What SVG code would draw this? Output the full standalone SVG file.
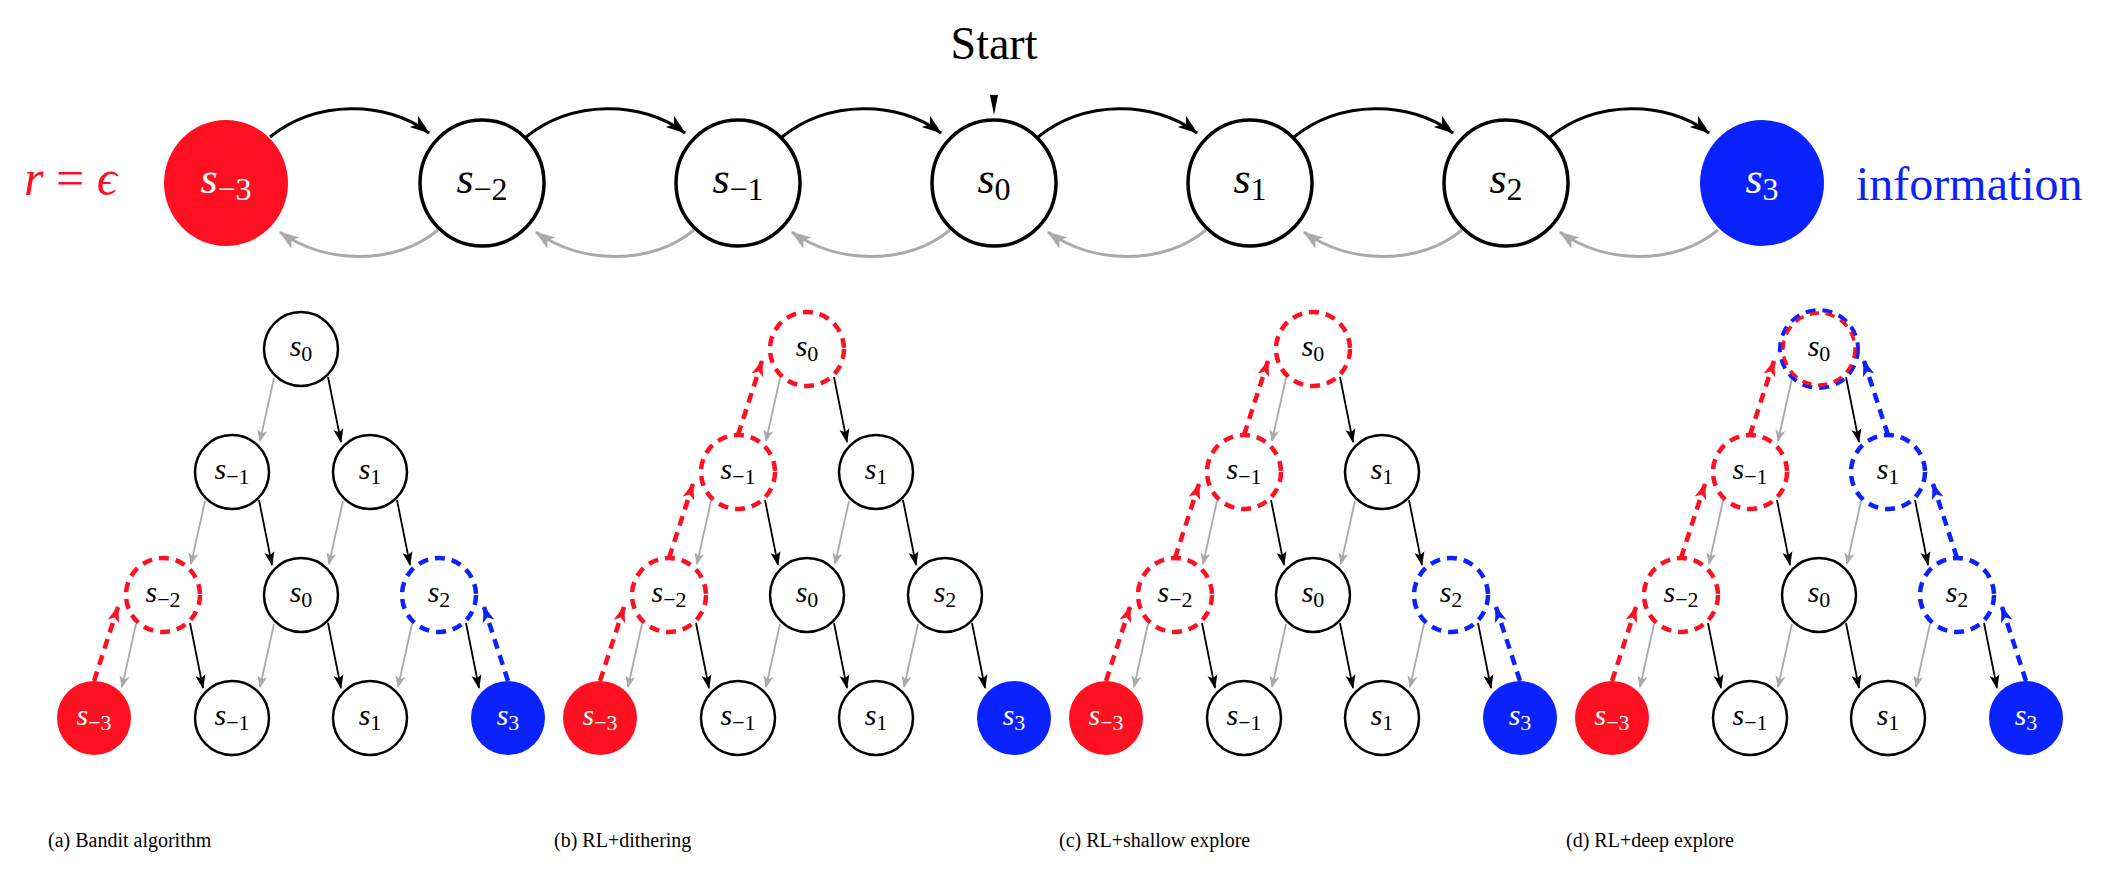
<svg xmlns="http://www.w3.org/2000/svg" width="2112" height="876" viewBox="0 0 2112 876" font-family="'Liberation Serif', 'Times New Roman', 'DejaVu Serif', serif">
<style>
text,tspan{font-family:"Liberation Serif","Times New Roman","DejaVu Serif",serif}
.s{font-style:italic}
.lbl{text-anchor:middle;font-size:30px}
.big{text-anchor:middle;font-size:44px}
.n{fill:#fff;stroke:#000;stroke-width:2.5}
.cn{fill:#fff;stroke:#000;stroke-width:3.5}
.dr{fill:#fff;stroke:#ff1020;stroke-width:4.5;stroke-dasharray:10 7}
.db{fill:#fff;stroke:#0a22ff;stroke-width:4.5;stroke-dasharray:10 7}
.fr{fill:#ff1020}
.fb{fill:#0a22ff}
.w{fill:#fff}
.eg{fill:none;stroke:#aaa;stroke-width:1.8;marker-end:url(#ag)}
.eb{fill:none;stroke:#000;stroke-width:1.8;marker-end:url(#ab)}
.er{fill:none;stroke:#ff1020;stroke-width:4.5;stroke-dasharray:10 7;marker-end:url(#ar)}
.eu{fill:none;stroke:#0a22ff;stroke-width:4.5;stroke-dasharray:10 7;marker-end:url(#au)}
.cf{fill:none;stroke:#000;stroke-width:3;marker-end:url(#cb)}
.cg{fill:none;stroke:#aaa;stroke-width:3;marker-end:url(#cg)}
.cap{font-size:20px}
</style>
<defs>
<marker id="ag" markerUnits="userSpaceOnUse" markerWidth="12" markerHeight="12" viewBox="0 0 12 12" refX="11" refY="6" orient="auto"><path d="M0,1 L12,6 L0,11 L3,6 Z" fill="#aaa"/></marker>
<marker id="ab" markerUnits="userSpaceOnUse" markerWidth="14" markerHeight="12" viewBox="0 0 14 12" refX="13" refY="6" orient="auto"><path d="M0,1 L14,6 L0,11 L3,6 Z" fill="#000"/></marker>
<marker id="ar" markerUnits="userSpaceOnUse" markerWidth="16" markerHeight="14" viewBox="0 0 16 14" refX="15" refY="7" orient="auto"><path d="M0,1 L16,7 L0,13 L4,7 Z" fill="#ff1020"/></marker>
<marker id="au" markerUnits="userSpaceOnUse" markerWidth="16" markerHeight="14" viewBox="0 0 16 14" refX="15" refY="7" orient="auto"><path d="M0,1 L16,7 L0,13 L4,7 Z" fill="#0a22ff"/></marker>
<marker id="cb" markerUnits="userSpaceOnUse" markerWidth="20" markerHeight="16" viewBox="0 0 20 16" refX="19" refY="8" orient="auto"><path d="M0,1 L20,8 L0,15 L5,8 Z" fill="#000"/></marker>
<marker id="cg" markerUnits="userSpaceOnUse" markerWidth="20" markerHeight="16" viewBox="0 0 20 16" refX="19" refY="8" orient="auto"><path d="M0,1 L20,8 L0,15 L5,8 Z" fill="#aaa"/></marker>
</defs>

<!-- top chain -->
<g id="chain-connectors">
<path class="cf" d="M270 137 C316 100 386 100 429 133"/>
<path class="cf" d="M526 137 C572 100 642 100 685 133"/>
<path class="cf" d="M782 137 C828 100 898 100 941 133"/>
<path class="cf" d="M1038 137 C1084 100 1154 100 1197 133"/>
<path class="cf" d="M1294 137 C1340 100 1410 100 1453 133"/>
<path class="cf" d="M1550 137 C1596 100 1666 100 1709 133"/>
<path class="cg" d="M438 230 C396 265 326 265 280 232"/>
<path class="cg" d="M694 230 C652 265 582 265 536 232"/>
<path class="cg" d="M950 230 C908 265 838 265 792 232"/>
<path class="cg" d="M1206 230 C1164 265 1094 265 1048 232"/>
<path class="cg" d="M1462 230 C1420 265 1350 265 1304 232"/>
<path class="cg" d="M1718 230 C1676 265 1606 265 1560 232"/>
<path d="M990 95 L998 95 L994 115 Z" fill="#000"/>
</g>
<text x="994" y="59" text-anchor="middle" font-size="46">Start</text>
<text x="24" y="195" font-size="50" fill="#ff1020"><tspan class="s">r</tspan> = <tspan class="s">ϵ</tspan></text>
<text x="1856" y="200" font-size="48" fill="#0a22ff">information</text>
<g id="c-sm3"><ellipse class="fr" cx="226" cy="183" rx="62" ry="63"/><text class="big w" x="226" y="193"><tspan class="s">s</tspan><tspan font-size="32" dy="7">−3</tspan></text></g>
<g id="c-sm2"><ellipse class="cn" cx="482" cy="183" rx="62" ry="63"/><text class="big" x="482" y="193"><tspan class="s">s</tspan><tspan font-size="32" dy="7">−2</tspan></text></g>
<g id="c-sm1"><ellipse class="cn" cx="738" cy="183" rx="62" ry="63"/><text class="big" x="738" y="193"><tspan class="s">s</tspan><tspan font-size="32" dy="7">−1</tspan></text></g>
<g id="c-s0"><ellipse class="cn" cx="994" cy="183" rx="62" ry="63"/><text class="big" x="994" y="193"><tspan class="s">s</tspan><tspan font-size="32" dy="7">0</tspan></text></g>
<g id="c-s1"><ellipse class="cn" cx="1250" cy="183" rx="62" ry="63"/><text class="big" x="1250" y="193"><tspan class="s">s</tspan><tspan font-size="32" dy="7">1</tspan></text></g>
<g id="c-s2"><ellipse class="cn" cx="1506" cy="183" rx="62" ry="63"/><text class="big" x="1506" y="193"><tspan class="s">s</tspan><tspan font-size="32" dy="7">2</tspan></text></g>
<g id="c-s3"><ellipse class="fb" cx="1762" cy="183" rx="62" ry="63"/><text class="big w" x="1762" y="193"><tspan class="s">s</tspan><tspan font-size="32" dy="7">3</tspan></text></g>

<!-- tree connectors -->
<g id="tree-connectors">
<g transform="translate(301 0)">
<path class="eg" d="M-27 378 L-41 441"/><path class="eb" d="M27 377 L40 442"/>
<path class="eg" d="M-96 501 L-110 564"/><path class="eb" d="M-42 500 L-29 565"/>
<path class="eg" d="M42 501 L28 564"/><path class="eb" d="M96 500 L109 565"/>
<path class="eg" d="M-165 624 L-179 687"/><path class="eb" d="M-111 623 L-98 688"/>
<path class="eg" d="M-27 624 L-41 687"/><path class="eb" d="M27 623 L40 688"/>
<path class="eg" d="M111 624 L97 687"/><path class="eb" d="M165 623 L178 688"/>
<path class="er" d="M-207 681 L-183 607"/>
<path class="eu" d="M207 681 L183 607"/>
</g>
<g transform="translate(807 0)">
<path class="eg" d="M-27 378 L-41 441"/><path class="eb" d="M27 377 L40 442"/>
<path class="eg" d="M-96 501 L-110 564"/><path class="eb" d="M-42 500 L-29 565"/>
<path class="eg" d="M42 501 L28 564"/><path class="eb" d="M96 500 L109 565"/>
<path class="eg" d="M-165 624 L-179 687"/><path class="eb" d="M-111 623 L-98 688"/>
<path class="eg" d="M-27 624 L-41 687"/><path class="eb" d="M27 623 L40 688"/>
<path class="eg" d="M111 624 L97 687"/><path class="eb" d="M165 623 L178 688"/>
<path class="er" d="M-207 681 L-183 607"/>
<path class="er" d="M-138 558 L-114 484"/>
<path class="er" d="M-69 435 L-45 361"/>
</g>
<g transform="translate(1313 0)">
<path class="eg" d="M-27 378 L-41 441"/><path class="eb" d="M27 377 L40 442"/>
<path class="eg" d="M-96 501 L-110 564"/><path class="eb" d="M-42 500 L-29 565"/>
<path class="eg" d="M42 501 L28 564"/><path class="eb" d="M96 500 L109 565"/>
<path class="eg" d="M-165 624 L-179 687"/><path class="eb" d="M-111 623 L-98 688"/>
<path class="eg" d="M-27 624 L-41 687"/><path class="eb" d="M27 623 L40 688"/>
<path class="eg" d="M111 624 L97 687"/><path class="eb" d="M165 623 L178 688"/>
<path class="er" d="M-207 681 L-183 607"/>
<path class="er" d="M-138 558 L-114 484"/>
<path class="er" d="M-69 435 L-45 361"/>
<path class="eu" d="M207 681 L183 607"/>
</g>
<g transform="translate(1819 0)">
<path class="eg" d="M-27 378 L-41 441"/><path class="eb" d="M27 377 L40 442"/>
<path class="eg" d="M-96 501 L-110 564"/><path class="eb" d="M-42 500 L-29 565"/>
<path class="eg" d="M42 501 L28 564"/><path class="eb" d="M96 500 L109 565"/>
<path class="eg" d="M-165 624 L-179 687"/><path class="eb" d="M-111 623 L-98 688"/>
<path class="eg" d="M-27 624 L-41 687"/><path class="eb" d="M27 623 L40 688"/>
<path class="eg" d="M111 624 L97 687"/><path class="eb" d="M165 623 L178 688"/>
<path class="er" d="M-207 681 L-183 607"/>
<path class="er" d="M-138 558 L-114 484"/>
<path class="er" d="M-69 435 L-45 361"/>
<path class="eu" d="M207 681 L183 607"/>
<path class="eu" d="M138 558 L114 484"/>
<path class="eu" d="M69 435 L45 361"/>
</g>
</g>

<!-- tree a -->
<g transform="translate(301 0)">
<g id="a-s0"><circle class="n" cx="0" cy="349" r="37"/><text class="lbl" x="0" y="356"><tspan class="s">s</tspan><tspan font-size="22" dy="5">0</tspan></text></g>
<g id="a-sm1"><circle class="n" cx="-69" cy="472" r="37"/><text class="lbl" x="-69" y="479"><tspan class="s">s</tspan><tspan font-size="22" dy="5">−1</tspan></text></g>
<g id="a-s1"><circle class="n" cx="69" cy="472" r="37"/><text class="lbl" x="69" y="479"><tspan class="s">s</tspan><tspan font-size="22" dy="5">1</tspan></text></g>
<g id="a-sm2"><circle class="dr" cx="-138" cy="595" r="37"/><text class="lbl" x="-138" y="602"><tspan class="s">s</tspan><tspan font-size="22" dy="5">−2</tspan></text></g>
<g id="a-s0b"><circle class="n" cx="0" cy="595" r="37"/><text class="lbl" x="0" y="602"><tspan class="s">s</tspan><tspan font-size="22" dy="5">0</tspan></text></g>
<g id="a-s2"><circle class="db" cx="138" cy="595" r="37"/><text class="lbl" x="138" y="602"><tspan class="s">s</tspan><tspan font-size="22" dy="5">2</tspan></text></g>
<g id="a-sm3"><circle class="fr" cx="-207" cy="718" r="37"/><text class="lbl w" x="-207" y="725"><tspan class="s">s</tspan><tspan font-size="22" dy="5">−3</tspan></text></g>
<g id="a-sm1b"><circle class="n" cx="-69" cy="718" r="37"/><text class="lbl" x="-69" y="725"><tspan class="s">s</tspan><tspan font-size="22" dy="5">−1</tspan></text></g>
<g id="a-s1b"><circle class="n" cx="69" cy="718" r="37"/><text class="lbl" x="69" y="725"><tspan class="s">s</tspan><tspan font-size="22" dy="5">1</tspan></text></g>
<g id="a-s3"><circle class="fb" cx="207" cy="718" r="37"/><text class="lbl w" x="207" y="725"><tspan class="s">s</tspan><tspan font-size="22" dy="5">3</tspan></text></g>
</g>
<!-- tree b -->
<g transform="translate(807 0)">
<g id="b-s0"><circle class="dr" cx="0" cy="349" r="37"/><text class="lbl" x="0" y="356"><tspan class="s">s</tspan><tspan font-size="22" dy="5">0</tspan></text></g>
<g id="b-sm1"><circle class="dr" cx="-69" cy="472" r="37"/><text class="lbl" x="-69" y="479"><tspan class="s">s</tspan><tspan font-size="22" dy="5">−1</tspan></text></g>
<g id="b-s1"><circle class="n" cx="69" cy="472" r="37"/><text class="lbl" x="69" y="479"><tspan class="s">s</tspan><tspan font-size="22" dy="5">1</tspan></text></g>
<g id="b-sm2"><circle class="dr" cx="-138" cy="595" r="37"/><text class="lbl" x="-138" y="602"><tspan class="s">s</tspan><tspan font-size="22" dy="5">−2</tspan></text></g>
<g id="b-s0b"><circle class="n" cx="0" cy="595" r="37"/><text class="lbl" x="0" y="602"><tspan class="s">s</tspan><tspan font-size="22" dy="5">0</tspan></text></g>
<g id="b-s2"><circle class="n" cx="138" cy="595" r="37"/><text class="lbl" x="138" y="602"><tspan class="s">s</tspan><tspan font-size="22" dy="5">2</tspan></text></g>
<g id="b-sm3"><circle class="fr" cx="-207" cy="718" r="37"/><text class="lbl w" x="-207" y="725"><tspan class="s">s</tspan><tspan font-size="22" dy="5">−3</tspan></text></g>
<g id="b-sm1b"><circle class="n" cx="-69" cy="718" r="37"/><text class="lbl" x="-69" y="725"><tspan class="s">s</tspan><tspan font-size="22" dy="5">−1</tspan></text></g>
<g id="b-s1b"><circle class="n" cx="69" cy="718" r="37"/><text class="lbl" x="69" y="725"><tspan class="s">s</tspan><tspan font-size="22" dy="5">1</tspan></text></g>
<g id="b-s3"><circle class="fb" cx="207" cy="718" r="37"/><text class="lbl w" x="207" y="725"><tspan class="s">s</tspan><tspan font-size="22" dy="5">3</tspan></text></g>
</g>
<!-- tree c -->
<g transform="translate(1313 0)">
<g id="c-s0t"><circle class="dr" cx="0" cy="349" r="37"/><text class="lbl" x="0" y="356"><tspan class="s">s</tspan><tspan font-size="22" dy="5">0</tspan></text></g>
<g id="c-sm1t"><circle class="dr" cx="-69" cy="472" r="37"/><text class="lbl" x="-69" y="479"><tspan class="s">s</tspan><tspan font-size="22" dy="5">−1</tspan></text></g>
<g id="c-s1t"><circle class="n" cx="69" cy="472" r="37"/><text class="lbl" x="69" y="479"><tspan class="s">s</tspan><tspan font-size="22" dy="5">1</tspan></text></g>
<g id="c-sm2t"><circle class="dr" cx="-138" cy="595" r="37"/><text class="lbl" x="-138" y="602"><tspan class="s">s</tspan><tspan font-size="22" dy="5">−2</tspan></text></g>
<g id="c-s0bt"><circle class="n" cx="0" cy="595" r="37"/><text class="lbl" x="0" y="602"><tspan class="s">s</tspan><tspan font-size="22" dy="5">0</tspan></text></g>
<g id="c-s2t"><circle class="db" cx="138" cy="595" r="37"/><text class="lbl" x="138" y="602"><tspan class="s">s</tspan><tspan font-size="22" dy="5">2</tspan></text></g>
<g id="c-sm3t"><circle class="fr" cx="-207" cy="718" r="37"/><text class="lbl w" x="-207" y="725"><tspan class="s">s</tspan><tspan font-size="22" dy="5">−3</tspan></text></g>
<g id="c-sm1bt"><circle class="n" cx="-69" cy="718" r="37"/><text class="lbl" x="-69" y="725"><tspan class="s">s</tspan><tspan font-size="22" dy="5">−1</tspan></text></g>
<g id="c-s1bt"><circle class="n" cx="69" cy="718" r="37"/><text class="lbl" x="69" y="725"><tspan class="s">s</tspan><tspan font-size="22" dy="5">1</tspan></text></g>
<g id="c-s3t"><circle class="fb" cx="207" cy="718" r="37"/><text class="lbl w" x="207" y="725"><tspan class="s">s</tspan><tspan font-size="22" dy="5">3</tspan></text></g>
</g>
<!-- tree d -->
<g transform="translate(1819 0)">
<g id="d-s0"><circle fill="#fff" stroke="#0a22ff" stroke-width="4" stroke-dasharray="10 7" cx="0" cy="349" r="39"/><circle fill="none" stroke="#ff1020" stroke-width="3.5" stroke-dasharray="9.4 6.6" cx="0" cy="349" r="36"/><text class="lbl" x="0" y="356"><tspan class="s">s</tspan><tspan font-size="22" dy="5">0</tspan></text></g>
<g id="d-sm1"><circle class="dr" cx="-69" cy="472" r="37"/><text class="lbl" x="-69" y="479"><tspan class="s">s</tspan><tspan font-size="22" dy="5">−1</tspan></text></g>
<g id="d-s1"><circle class="db" cx="69" cy="472" r="37"/><text class="lbl" x="69" y="479"><tspan class="s">s</tspan><tspan font-size="22" dy="5">1</tspan></text></g>
<g id="d-sm2"><circle class="dr" cx="-138" cy="595" r="37"/><text class="lbl" x="-138" y="602"><tspan class="s">s</tspan><tspan font-size="22" dy="5">−2</tspan></text></g>
<g id="d-s0b"><circle class="n" cx="0" cy="595" r="37"/><text class="lbl" x="0" y="602"><tspan class="s">s</tspan><tspan font-size="22" dy="5">0</tspan></text></g>
<g id="d-s2"><circle class="db" cx="138" cy="595" r="37"/><text class="lbl" x="138" y="602"><tspan class="s">s</tspan><tspan font-size="22" dy="5">2</tspan></text></g>
<g id="d-sm3"><circle class="fr" cx="-207" cy="718" r="37"/><text class="lbl w" x="-207" y="725"><tspan class="s">s</tspan><tspan font-size="22" dy="5">−3</tspan></text></g>
<g id="d-sm1b"><circle class="n" cx="-69" cy="718" r="37"/><text class="lbl" x="-69" y="725"><tspan class="s">s</tspan><tspan font-size="22" dy="5">−1</tspan></text></g>
<g id="d-s1b"><circle class="n" cx="69" cy="718" r="37"/><text class="lbl" x="69" y="725"><tspan class="s">s</tspan><tspan font-size="22" dy="5">1</tspan></text></g>
<g id="d-s3"><circle class="fb" cx="207" cy="718" r="37"/><text class="lbl w" x="207" y="725"><tspan class="s">s</tspan><tspan font-size="22" dy="5">3</tspan></text></g>
</g>

<text class="cap" x="48" y="847">(a) Bandit algorithm</text>
<text class="cap" x="554" y="847">(b) RL+dithering</text>
<text class="cap" x="1059" y="847">(c) RL+shallow explore</text>
<text class="cap" x="1566" y="847">(d) RL+deep explore</text>
</svg>
